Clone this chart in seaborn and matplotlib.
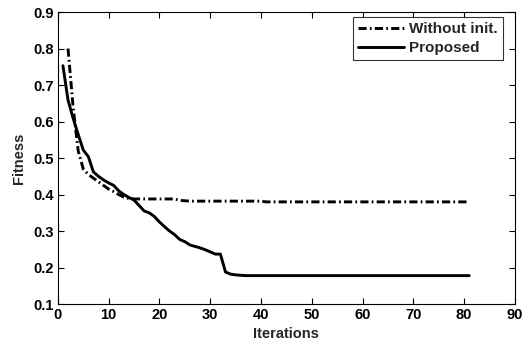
import numpy as np
import pandas as pd
import matplotlib
matplotlib.use("Agg")
import matplotlib.pyplot as plt
import seaborn as sns

# Convergence data: fitness per iteration
iters_without = list(range(2, 82))
fitness_without = (
    [0.80, 0.64, 0.52, 0.47, 0.455, 0.445, 0.435, 0.425, 0.415, 0.408,
     0.400, 0.393, 0.389, 0.388, 0.388, 0.388, 0.388, 0.388, 0.388, 0.388,
     0.388, 0.388, 0.384, 0.383]
    + [0.382] * 15
    + [0.380] * 41
)

iters_proposed = list(range(1, 82))
fitness_proposed = (
    [0.753, 0.659, 0.609, 0.565, 0.522, 0.504, 0.462, 0.450, 0.440, 0.432,
     0.425, 0.410, 0.400, 0.392, 0.385, 0.370, 0.355, 0.350, 0.340, 0.325,
     0.312, 0.300, 0.290, 0.277, 0.271, 0.262, 0.258, 0.254, 0.249, 0.243,
     0.237, 0.237, 0.188, 0.182, 0.180, 0.179]
    + [0.178] * 45
)

series_names = ["Without init.", "Proposed"]
x_ticks = [0, 10, 20, 30, 40, 50, 60, 70, 80, 90]
y_ticks = [0.1, 0.2, 0.3, 0.4, 0.5, 0.6, 0.7, 0.8, 0.9]

sns.set_style("ticks")
plt.rcParams["font.family"] = ["Liberation Sans", "DejaVu Sans"]
plt.rcParams["font.weight"] = "bold"
plt.rcParams["axes.labelweight"] = "bold"

FS = 10.5

fig = plt.figure(figsize=(5.26, 3.44), dpi=100)
ax = fig.add_axes([0.110, 0.116, 0.869, 0.849])

df_without = pd.DataFrame({"Iterations": iters_without, "Fitness": fitness_without})
df_proposed = pd.DataFrame({"Iterations": iters_proposed, "Fitness": fitness_proposed})

sns.lineplot(data=df_without, x="Iterations", y="Fitness", ax=ax, color="black",
             linewidth=2.1, linestyle=(0, (2.8, 1.1, 0.6, 1.1)),
             label=series_names[0])
sns.lineplot(data=df_proposed, x="Iterations", y="Fitness", ax=ax, color="black",
             linewidth=2.1, linestyle="-", label=series_names[1])

ax.set_xlim(0, 90)
ax.set_ylim(0.1, 0.9)
ax.set_xticks(x_ticks)
ax.set_yticks(y_ticks)
ax.set_xticklabels([str(t) for t in x_ticks], fontsize=FS, fontweight="bold")
ax.set_yticklabels([f"{t:.1f}" for t in y_ticks], fontsize=FS, fontweight="bold")
ax.tick_params(direction="in", length=4, width=0.8, top=True, right=True,
               labeltop=False, labelright=False, pad=3, colors="black")
for side in ["top", "right", "bottom", "left"]:
    ax.spines[side].set_visible(True)
    ax.spines[side].set_linewidth(0.8)
    ax.spines[side].set_color("black")

ax.set_xlabel("Iterations", fontsize=FS, fontweight="bold", labelpad=3.5)
ax.set_ylabel("Fitness", fontsize=FS, fontweight="bold")
ax.yaxis.set_label_coords(-0.070, 0.5)

leg = ax.legend(loc="upper right", bbox_to_anchor=(0.9735, 0.983),
                borderaxespad=0, fontsize=11, frameon=True, fancybox=False,
                handlelength=3.0, borderpad=0.35, labelspacing=0.3,
                handletextpad=0.3)
leg.get_frame().set_edgecolor("black")
leg.get_frame().set_linewidth(0.8)
for t in leg.get_texts():
    t.set_fontweight("bold")

fig.savefig("out.png", dpi=100)
